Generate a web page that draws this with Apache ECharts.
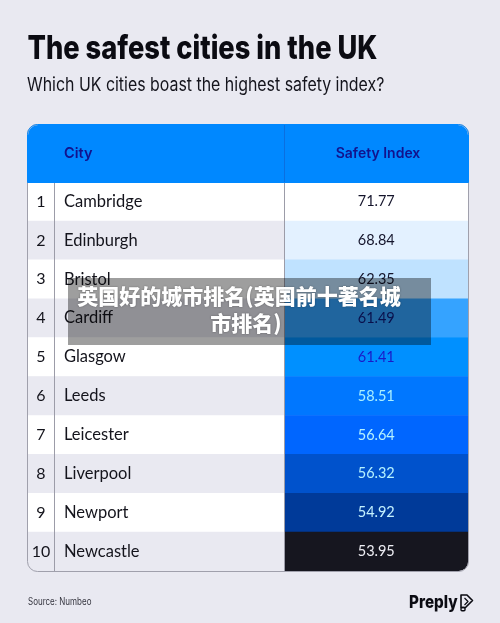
<!DOCTYPE html>
<html><head><meta charset="utf-8">
<style>html,body{margin:0;padding:0;background:#e9e9f1}#c{width:500px;height:623px}</style>
<script src="https://cdn.jsdelivr.net/npm/echarts@6/dist/echarts.min.js"></script>
</head><body><div id="c"></div>
<script>
const ranks = ['1','2','3','4','5','6','7','8','9','10'];
const cities = ['Cambridge','Edinburgh','Bristol','Cardiff','Glasgow','Leeds','Leicester','Liverpool','Newport','Newcastle'];
const safetyIndex = [71.77,68.84,62.35,61.49,61.41,58.51,56.64,56.32,54.92,53.95];
const cellColors = ['#ffffff','#e3f1ff','#bfe2ff','#35a3ff','#0090ff','#0077ff','#0066ff','#0052cc','#003a99','#16161f'];
const textColors = ['#14142b','#14142b','#14142b','#0f1a7a','#1a1ac8','#a8eeff','#b4f2ff','#b4f2ff','#c4f2ff','#eeeef4'];
const stripes = ['#ffffff','#e9e9f1'];
const font = 'Inter, sans-serif';
const TOP=182, H=389, BOTTOM=623-TOP-H;
const rowsAxis = (gridIndex,data,extra)=>Object.assign({type:'category',gridIndex,data,inverse:true,z:5,
  axisLine:{show:false},axisTick:{show:false},splitLine:{show:false}},extra);
const colAxis = (gridIndex,name)=>({type:'category',gridIndex,data:[name],show:false});
const chart = echarts.init(document.getElementById('c'),null,{renderer:'canvas'});
const squeezed = (x,y,sx,style)=>({type:'text',z:6,x,y,scaleX:sx,originX:0,originY:0,style});
chart.setOption({
  backgroundColor:'#e9e9f1',
  animation:false,
  grid:[
    {left:28,width:26.5,top:TOP,bottom:BOTTOM},
    {left:54.5,width:230,top:TOP,bottom:BOTTOM},
    {left:284.5,width:183.5,top:TOP,bottom:BOTTOM}
  ],
  xAxis:[colAxis(0,'Rank'),colAxis(1,'City'),colAxis(2,'Safety Index')],
  yAxis:[
    rowsAxis(0,ranks,{axisLabel:{show:true,inside:true,margin:13,align:'center',fontFamily:'Lato, sans-serif',fontSize:16,color:'#14141c'}}),
    rowsAxis(1,cities,{axisLabel:{show:true,inside:true,margin:9.5,fontFamily:'Lato, sans-serif',fontSize:16.5,color:'#14141c'}}),
    rowsAxis(2,cities,{axisLabel:{show:false}})
  ],
  series:[
    {type:'heatmap',xAxisIndex:0,yAxisIndex:0,z:1,data:cities.map((c,i)=>({value:[0,i,i%2],itemStyle:{color:stripes[i%2],borderRadius:i===9?[0,0,0,10]:0}}))},
    {type:'heatmap',xAxisIndex:1,yAxisIndex:1,z:1,data:cities.map((c,i)=>({value:[0,i,i%2],itemStyle:{color:stripes[i%2]}}))},
    {type:'heatmap',xAxisIndex:2,yAxisIndex:2,z:1,
      label:{show:true,fontFamily:'Lato, sans-serif',fontSize:14.5,formatter:p=>p.value[2].toFixed(2)},
      data:safetyIndex.map((v,i)=>({value:[0,i,v],
        itemStyle:{color:cellColors[i],borderRadius:i===9?[0,0,10,0]:0},
        label:{color:textColors[i]}}))}
  ],
  graphic:[
    squeezed(27.5,33,0.826,{text:'The safest cities in the UK',fontFamily:font,fontWeight:800,fontSize:33,fill:'#0b0b12'}),
    squeezed(27,76,0.86,{text:'Which UK cities boast the highest safety index?',fontFamily:font,fontWeight:400,fontSize:18.5,fill:'#14141c'}),
    squeezed(28,597,0.8,{text:'Source: Numbeo',fontFamily:font,fontSize:10,fill:'#33333d'}),
    {type:'rect',z:5,shape:{x:28,y:125,width:440,height:57,r:[10,10,0,0]},style:{fill:'#0088ff'}},
    {type:'line',z:6,shape:{x1:284.5,y1:125,x2:284.5,y2:182},style:{stroke:'#0a6fe0',lineWidth:1}},
    {type:'text',z:6,x:64,y:153.5,style:{text:'City',fontFamily:font,fontWeight:600,fontSize:14.5,fill:'#12128c',verticalAlign:'middle'}},
    {type:'text',z:6,x:378,y:153.5,style:{text:'Safety Index',fontFamily:font,fontWeight:600,fontSize:14,fill:'#12128c',align:'center',verticalAlign:'middle'}},
    {type:'line',z:6,shape:{x1:54.5,y1:182,x2:54.5,y2:571},style:{stroke:'#9c9ca8',lineWidth:1}},
    {type:'line',z:6,shape:{x1:284.5,y1:182,x2:284.5,y2:571},style:{stroke:'#9c9ca8',lineWidth:1}},
    {type:'rect',z:6,shape:{x:27.5,y:124.5,width:441,height:447,r:10},style:{fill:'none',stroke:'#a0a0ac',lineWidth:1}},
    {type:'rect',z:6,shape:{x:27.5,y:124.5,width:441,height:58,r:[10,10,0,0]},style:{fill:'none',stroke:'#0088ff',lineWidth:1}},
    squeezed(409,594,0.87,{text:'Preply',fontFamily:font,fontWeight:800,fontSize:17.5,fill:'#0b0b12'}),
    {type:'polygon',z:6,shape:{points:[[461,595],[467,595],[472.5,600.5],[465.5,607.5],[461,607.5]]},style:{fill:'none',stroke:'#0b0b12',lineWidth:1.6,lineJoin:'round'}},
    {type:'polyline',z:6,shape:{points:[[464.5,598],[468,601.5],[464.5,605]]},style:{fill:'none',stroke:'#0b0b12',lineWidth:1.2,lineJoin:'round'}},
    {type:'rect',z:6,shape:{x:461,y:607.5,width:4,height:3.2,r:1},style:{fill:'none',stroke:'#0b0b12',lineWidth:1.4}},
    {type:'rect',z:20,shape:{x:68,y:278,width:363,height:67},style:{fill:'rgba(0,0,0,0.38)'}},
    {type:'text',z:21,x:239,y:296,style:{text:'英国好的城市排名(英国前十著名城',fontFamily:'"Noto Sans CJK SC", sans-serif',fontWeight:900,fontSize:21,fill:'#ffffff',align:'center',verticalAlign:'middle',textShadowColor:'rgba(0,0,0,0.35)',textShadowBlur:2}},
    {type:'text',z:21,x:246,y:323,style:{text:'市排名)',fontFamily:'"Noto Sans CJK SC", sans-serif',fontWeight:900,fontSize:21,fill:'#ffffff',align:'center',verticalAlign:'middle',textShadowColor:'rgba(0,0,0,0.35)',textShadowBlur:2}}
  ]
});
</script></body></html>
